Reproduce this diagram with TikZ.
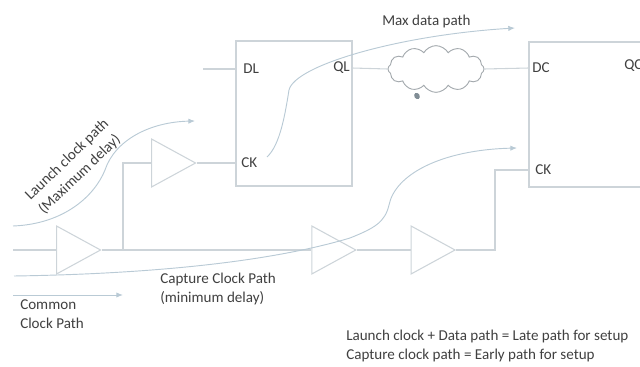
\documentclass[tikz,border=0pt]{standalone}
\usepackage{fontspec}
\setmainfont{Carlito}
\usetikzlibrary{shapes.geometric, shapes.symbols, arrows.meta, positioning}
\definecolor{wirecolor}{HTML}{CDD4D9}
\definecolor{curvecolor}{HTML}{B9CAD5}
\definecolor{textcolor}{HTML}{404040}
\tikzset{
    block/.style={rectangle, draw=wirecolor, line width=1pt, minimum width=87pt, minimum height=108.75pt},
    buffer/.style={isosceles triangle, isosceles triangle stretches, draw=wirecolor, line width=0.8pt, inner sep=0pt, minimum width=36pt, minimum height=33pt, anchor=west},
    wire/.style={draw=wirecolor, line width=0.8pt},
    curve/.style={draw=curvecolor, line width=0.7pt},
    arrow/.style={curve, -{Latex[length=5pt, width=4pt]}},
    labelstyle/.style={font=\fontsize{11.3}{14.6}\selectfont, text=textcolor, inner sep=0pt, align=left},
    pinstyle/.style={labelstyle, anchor=west},
}

\begin{document}
\begin{tikzpicture}[x=0.75pt, y=-0.75pt]
    \useasboundingbox (0,0) rectangle (640,367);

    % Buffers
    \node[buffer] (bufcommon) at (56,250) {};
    \node[buffer, right=157pt of bufcommon] (bufcapture) {};
    \node[buffer, right=40pt of bufcapture] (bufclock) {};
    \node[buffer] (buflaunch) at (151,163) {};

    % Flops
    \node[block] (flopl) at (294,113.5) {};
    \node[block, minimum width=90pt] (flopc) at (589,114.5) {};
    \node[pinstyle] (dl) at (243,69) {DL};
    \node[pinstyle, anchor=east] (ql) at (350,68) {QL};
    \node[pinstyle] (ckl) at (241,163) {CK};
    \node[pinstyle] (dc) at (532,68) {DC};
    \node[pinstyle] (qc) at (624,66) {QC};
    \node[pinstyle] (ckc) at (535,170) {CK};

    % Data cloud
    \node[cloud, cloud puffs=12, cloud puff arc=120, aspect=2.2, draw=wirecolor!80!black, line width=0.7pt, inner sep=0pt, minimum width=72pt, minimum height=35pt] (cloud) at (436,69) {};
    \node[ellipse, fill=curvecolor!70!black, inner sep=0pt, minimum width=4pt, minimum height=5pt, rotate=30] (bubble) at (417,96) {};

    % Free ends and pins
    \coordinate (input) at (13,250);
    \coordinate (stubdl) at (203,69);
    \coordinate (pindl) at (236,69);
    \coordinate (pinql) at (352,68);
    \coordinate (pindc) at (529,68);
    \coordinate (pinckl) at (236,163);
    \coordinate (pinckc) at (529,170);
    \coordinate (branch) at (123,250);

    % Wires
    \draw[wire] (input) -- (bufcommon.west);
    \draw[wire] (bufcommon.east) -- (bufcapture.west);
    \draw[wire] (branch) |- (buflaunch.west);
    \draw[wire] (buflaunch.east) -- (pinckl);
    \draw[wire] (bufcapture.east) -- (bufclock.west);
    \draw[wire] (bufclock.east) -| (495,170) -- (pinckc);
    \draw[wire] (stubdl) -- (pindl);
    \draw[wire] (pinql) -- (cloud.west);
    \draw[wire] (cloud.east) -- (pindc);

    % Path curves
    \coordinate (launchstart) at (13,226);
    \coordinate (launchend) at (195,121);
    \coordinate (datastart) at (267,157);
    \coordinate (dataend) at (515,28);
    \coordinate (capturestart) at (14,276);
    \coordinate (captureend) at (517,148);
    \coordinate (commonstart) at (13,295);
    \coordinate (commonend) at (123,295);
    \draw[arrow] (launchstart) .. controls (65,224) and (95,195) .. (105,170) .. controls (115,140) and (150,122) .. (launchend);
    \draw[arrow] (datastart) .. controls (280,145) and (285,115) .. (289,90) .. controls (295,65) and (400,35) .. (dataend);
    \draw[arrow] (capturestart) .. controls (150,274) and (270,262) .. (350,238) .. controls (375,228) and (385,222) .. (389,205) .. controls (395,175) and (440,150) .. (captureend);
    \draw[arrow] (commonstart) -- (commonend);

    % Labels
    \node[labelstyle, rotate=44] (launchlabel) at (74,167) {Launch clock path\\(Maximum delay)};
    \node[labelstyle, anchor=west] (datalabel) at (382,21) {Max data path};
    \node[labelstyle, anchor=west] (capturelabel) at (160,289) {Capture Clock Path\\(minimum delay)};
    \node[labelstyle, anchor=west] (commonlabel) at (20,314) {Common\\Clock Path};
    \node[labelstyle, anchor=west] (notelabel) at (346,346) {Launch clock + Data path = Late path for setup\\Capture clock path = Early path for setup};

\end{tikzpicture}
\end{document}
